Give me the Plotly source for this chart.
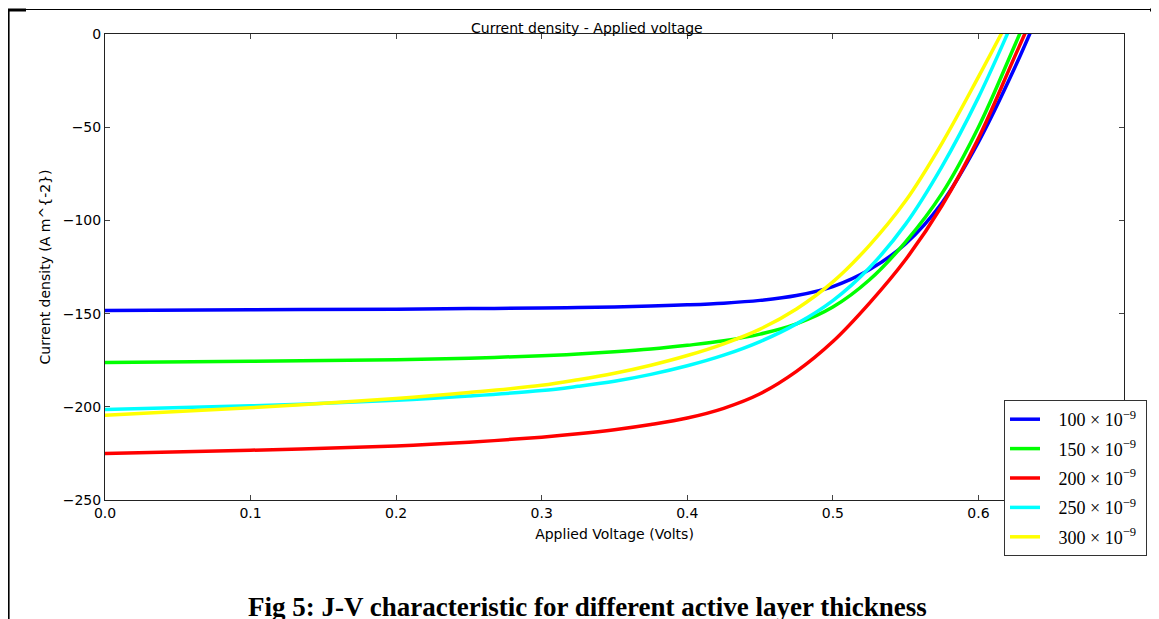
import plotly.graph_objects as go

# Applied voltage grid (V)
voltage = [0.0, 0.1, 0.2, 0.25, 0.3, 0.325, 0.35, 0.375, 0.4, 0.425, 0.45, 0.475,
           0.5, 0.525, 0.55, 0.575, 0.6, 0.625, 0.65]

# Current density (A m^-2) for each active layer thickness
j_100 = [-148.4, -148.0, -147.6, -147.3, -147.0, -146.75, -146.4, -145.95, -145.3, -144.4, -142.9, -140.3,
         -135.5, -126.5, -112.5, -90.5, -58.0, -18.0, 27.0]
j_150 = [-176.3, -175.6, -174.8, -173.9, -172.6, -171.7, -170.5, -169.0, -167.0, -164.6, -161.0, -155.5,
         -146.5, -132.0, -111.5, -85.5, -50.0, -6.0, 39.0]
j_200 = [-225.0, -223.3, -221.0, -219.0, -216.3, -214.5, -212.3, -209.5, -206.0, -200.8, -193.0, -181.0,
         -165.0, -144.5, -121.0, -92.0, -56.0, -12.0, 32.0]
j_250 = [-201.5, -199.5, -196.5, -194.2, -191.3, -189.0, -186.3, -182.6, -178.0, -172.3, -165.0, -155.5,
         -143.0, -125.5, -102.0, -71.0, -34.0, 9.0, 53.0]
j_300 = [-204.5, -200.5, -195.5, -192.3, -188.5, -185.5, -182.0, -177.7, -172.5, -166.2, -158.3, -147.5,
         -133.0, -113.5, -89.5, -58.5, -23.0, 14.0, 52.0]

series_names = ["100 × 10<sup>−9</sup>", "150 × 10<sup>−9</sup>", "200 × 10<sup>−9</sup>",
                "250 × 10<sup>−9</sup>", "300 × 10<sup>−9</sup>"]
series_values = [j_100, j_150, j_200, j_250, j_300]
series_colors = ["#0000ff", "#00ff00", "#ff0000", "#00ffff", "#ffff00"]

x_ticks = [0.0, 0.1, 0.2, 0.3, 0.4, 0.5, 0.6]
y_ticks = [0, -50, -100, -150, -200, -250]

# figure pixel geometry (page has an 8 px body margin)
W, H = 1151, 611
L, R, T, B = 97, 1116, 26, 492


def px_x(p):
    return (p - L) / (R - L)


def px_y(p):
    return (B - p) / (B - T)


fig = go.Figure()
for i, (name, vals, col) in enumerate(zip(series_names, series_values, series_colors)):
    fig.add_trace(go.Scatter(
        x=voltage, y=vals, mode="lines", name="&nbsp;&nbsp;&nbsp;" + name + "&nbsp;",
        line=dict(color=col, width=3.5, shape="spline", smoothing=1.0),
        legendgroup=f"g{i}",
    ))

axis_common = dict(
    showline=True, linecolor="#222", linewidth=1, mirror="ticks",
    ticks="inside", ticklen=5, tickcolor="#444", tickwidth=1,
    showgrid=False, zeroline=False,
    tickfont=dict(family="DejaVu Sans", size=14, color="black"),
)

fig.update_layout(
    width=W, height=H,
    margin=dict(l=L, r=W - R, t=T, b=H - B),
    paper_bgcolor="white", plot_bgcolor="white",
    showlegend=True,
    xaxis=dict(range=[0, 0.7], tickvals=x_ticks, tickformat=".1f",
               title=dict(text="Applied Voltage (Volts)",
                          font=dict(family="DejaVu Sans", size=14, color="black"),
                          standoff=9),
               **axis_common),
    yaxis=dict(range=[-250, 0], tickvals=y_ticks,
               title=dict(text="Current density (A m^{-2})",
                          font=dict(family="DejaVu Sans", size=14, color="black"),
                          standoff=8),
               **axis_common),
    legend=dict(
        x=px_x(996), y=px_y(392), xanchor="left", yanchor="top",
        bgcolor="white", bordercolor="#333", borderwidth=1,
        font=dict(family="Liberation Serif", size=18, color="black"),
        traceorder="grouped", tracegroupgap=3,
    ),
    annotations=[
        dict(text="Current density - Applied voltage", x=px_x(579), y=px_y(20),
             xref="paper", yref="paper", showarrow=False, xanchor="center", yanchor="middle",
             font=dict(family="DejaVu Sans", size=14, color="black")),
        dict(text="<b>Fig 5: J-V characteristic for different active layer thickness</b>",
             x=px_x(579), y=px_y(598.5), xref="paper", yref="paper", showarrow=False,
             xanchor="center", yanchor="middle",
             font=dict(family="Liberation Serif", size=27, color="black")),
    ],
    shapes=[
        dict(type="line", xref="paper", yref="paper", x0=px_x(0), x1=px_x(1142),
             y0=px_y(1.5), y1=px_y(1.5), line=dict(color="black", width=1.2)),
        dict(type="line", xref="paper", yref="paper", x0=px_x(0.8), x1=px_x(0.8),
             y0=px_y(1), y1=px_y(611), line=dict(color="black", width=1.6)),
        dict(type="line", xref="paper", yref="paper", x0=px_x(0), x1=px_x(18),
             y0=px_y(2), y1=px_y(2), line=dict(color="black", width=3)),
        dict(type="line", xref="paper", yref="paper", x0=px_x(1142), x1=px_x(1151),
             y0=px_y(2), y1=px_y(2), line=dict(color="black", width=3)),
    ],
)

fig.write_html("out.html")
